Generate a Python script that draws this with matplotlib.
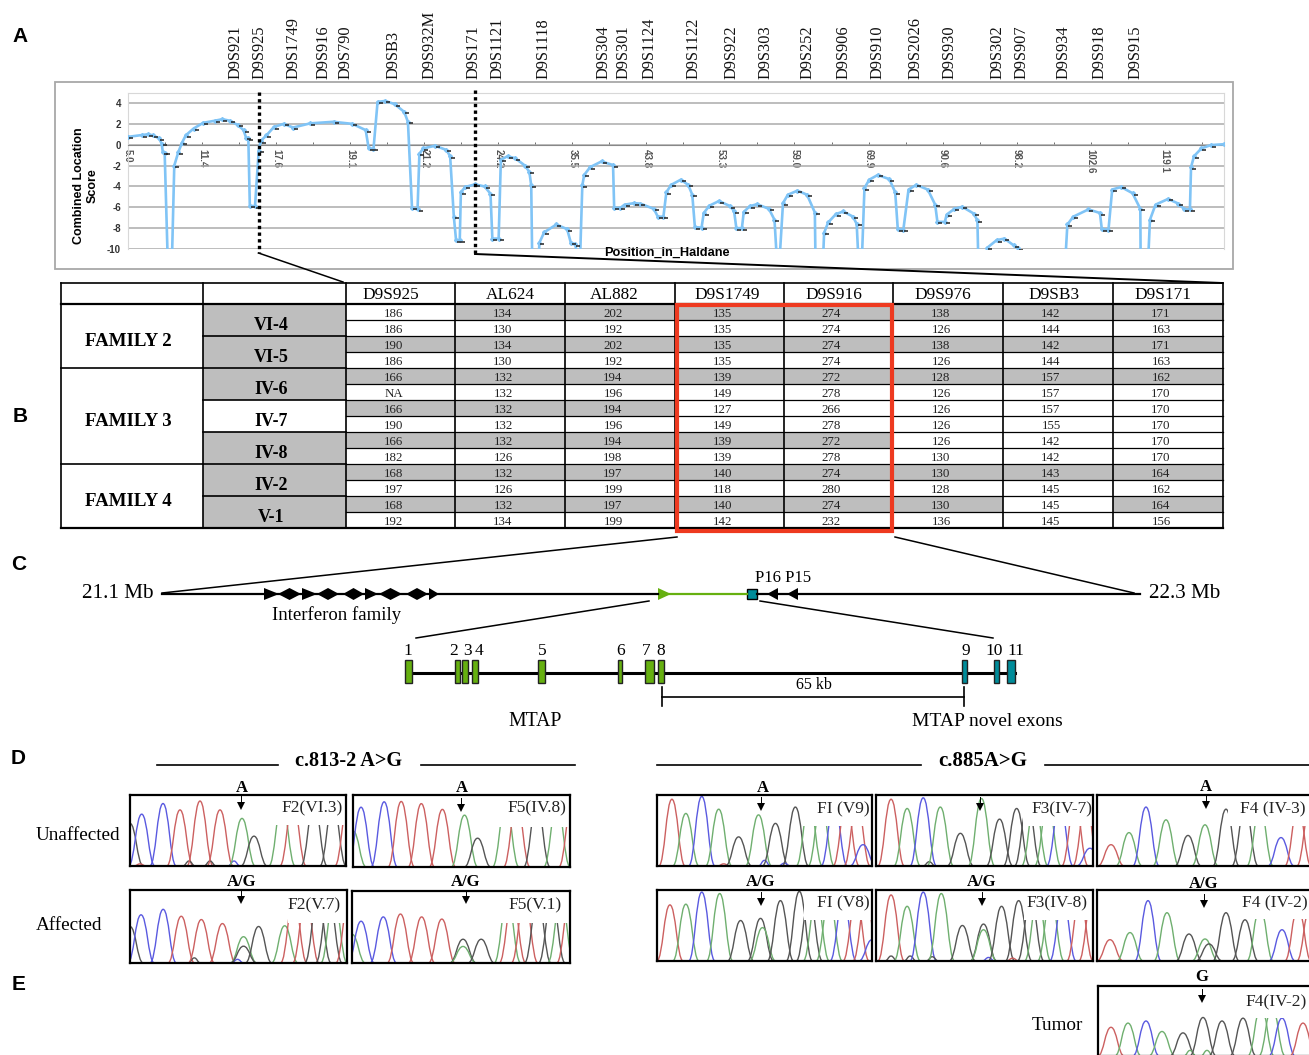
import matplotlib
matplotlib.use("Agg")
import matplotlib.pyplot as plt
from matplotlib.patches import Rectangle, PathPatch
from matplotlib.path import Path
from matplotlib.transforms import ScaledTranslation

W, H = 1309, 1055
SERIF = "Liberation Serif"
SANS = "Liberation Sans"

# panel A: markers above the plot
MARKER_NAMES = ["D9S921", "D9S925", "D9S1749", "D9S916", "D9S790", "D9SB3", "D9S932M", "D9S171", "D9S1121",
                "D9S1118", "D9S304", "D9S301", "D9S1124", "D9S1122", "D9S922", "D9S303", "D9S252", "D9S906",
                "D9S910", "D9S2026", "D9S930", "D9S302", "D9S907", "D9S934", "D9S918", "D9S915"]
MARKER_X = [236, 260, 294, 324, 346, 394, 429, 474, 498, 544, 604, 624, 650, 693, 731, 766, 807, 844, 878,
            916, 949, 997, 1022, 1063, 1099, 1135]

# panel A: combined location score (-12 = off the bottom of the scale)
POS = [0.1, 3.7, 5.3, 6.8, 8.4, 9.1, 9.4, 9.9, 10.8, 11.8, 12.5, 13.6, 14.6, 15.6, 17.7, 20.3, 23.4, 25.5, 27.5,
       29.6, 31.2, 31.9, 32.5, 32.9, 34.3, 35.3, 35.8, 37.4, 39.4, 42.0, 44.6, 49.2, 55.5, 60.6, 64.2, 65.0, 66.3,
       67.4, 69.4, 72.0, 74.6, 75.6, 76.7, 78.2, 78.7, 79.8, 82.9, 86.0, 87.0, 88.0, 88.6, 89.6, 89.9, 91.1, 93.7,
       96.3, 97.9, 98.4, 100.1, 100.7, 102.5, 104.6, 107.2, 108.4, 108.9, 109.2, 110.8, 111.1, 112.4, 115.7, 118.6,
       119.6, 120.8, 122.0, 122.7, 123.2, 124.8, 127.9, 131.0, 131.3, 133.0, 134.1, 136.7, 138.4, 142.0, 143.1,
       144.6, 145.4, 146.7, 149.3, 151.3, 152.4, 153.1, 154.9, 155.5, 157.0, 159.6, 162.7, 163.7, 164.3, 165.8,
       166.3, 167.9, 169.9, 173.1, 174.6, 175.4, 175.8, 176.9, 178.2, 180.8, 183.4, 185.5, 185.7, 187.6, 188.0,
       189.1, 191.2, 193.2, 195.8, 196.8, 197.4, 198.1, 198.9, 200.2, 202.5, 205.6, 207.2, 207.9, 209.4, 210.8,
       212.9, 216.0, 218.0, 218.6, 220.6, 221.1, 223.2, 225.3, 228.4, 229.4, 229.7, 231.5, 232.0, 234.6, 236.7,
       239.2, 240.3, 240.8, 253.0, 253.7, 255.3, 259.4, 262.5, 263.0, 264.8, 265.8, 268.2, 271.3, 273.4, 273.5,
       275.4, 276.0, 277.5, 280.9, 283.7, 285.3, 286.8, 287.1, 287.9, 289.9, 292.5, 296.0]
SCORE = [0.76, 0.92, 1.0, 0.9, 0.6, 0.1, -0.7, -0.76, -12, -12, -2.0, -0.7, 0.2, 0.9, 1.55, 2.1, 2.3, 2.45, 2.3,
         1.9, 1.4, 0.67, 0.6, -5.85, -5.9, -0.6, 0.35, 0.9, 1.7, 2.0, 1.65, 2.05, 2.2, 2.0, 1.4, -0.35, -0.4,
         4.1, 4.2, 3.9, 3.15, 2.2, -6.05, -6.2, -0.85, -0.35, -0.1, -0.5, -1.1, -6.9, -9.15, -9.15, -4.55, -4.05, -3.8,
         -4.0, -4.7, -9.0, -9.0, -1.45, -1.1, -1.3, -2.0, -2.6, -3.9, -12, -12, -9.4, -8.4, -7.65, -8.1,
         -9.4, -9.55, -12, -3.9, -2.9, -2.15, -1.6, -1.95, -6.05, -6.05, -5.75, -5.6, -5.65, -6.15, -6.9,
         -6.9, -4.55, -3.85, -3.35, -3.85, -4.8, -7.9, -7.95, -6.55, -5.85, -5.4, -5.9, -6.4, -8.0, -8.0,
         -6.45, -5.9, -5.7, -6.15, -7.2, -12, -12, -5.6, -4.8, -4.4, -4.8, -6.5, -12, -12, -8.45,
         -7.45, -6.65, -6.4, -6.9, -7.6, -12, -12, -4.15, -3.35, -2.9, -3.3, -4.55, -8.1, -8.15, -4.3,
         -3.85, -4.3, -5.75, -7.4, -7.4, -6.7, -6.15, -5.95, -6.6, -7.25, -12, -12, -9.9, -9.15, -9.0,
         -9.65, -9.95, -12, -12, -7.65, -6.9, -6.2, -6.55, -8.1, -8.15, -4.3, -4.05, -4.65, -6.15, -12,
         -12, -7.2, -5.75, -5.2, -5.65, -6.2, -6.2, -2.15, -1.1, -0.35, -0.03, 0.05]
POS_TICKS = [0, 20, 40, 60, 80, 100, 120, 140, 160, 180, 200, 220, 240, 260, 280]
POS_LABELS = ["5.0", "11.4", "17.6", "19.1", "21.2", "24.2", "35.5", "43.8", "53.3", "59.0", "69.9", "90.6",
              "98.2", "102.6", "119.1"]

# panel B: haplotype table
TABLE_MARKERS = ["D9S925", "AL624", "AL882", "D9S1749", "D9S916", "D9S976", "D9SB3", "D9S171"]
HEADER_X = [391, 510, 614, 727, 834, 943, 1054, 1163]
D9S925 = ["186", "186", "190", "186", "166", "NA", "166", "190", "166", "182", "168", "197", "168", "192"]
AL624 = ["134", "130", "134", "130", "132", "132", "132", "132", "132", "126", "132", "126", "132", "134"]
AL882 = ["202", "192", "202", "192", "194", "196", "194", "196", "194", "198", "197", "199", "197", "199"]
D9S1749 = ["135", "135", "135", "135", "139", "149", "127", "149", "139", "139", "140", "118", "140", "142"]
D9S916 = ["274", "274", "274", "274", "272", "278", "266", "278", "272", "278", "274", "280", "274", "232"]
D9S976 = ["138", "126", "138", "126", "128", "126", "126", "126", "126", "130", "130", "128", "130", "136"]
D9SB3 = ["142", "144", "142", "144", "157", "157", "157", "155", "142", "142", "143", "145", "145", "145"]
D9S171 = ["171", "163", "171", "163", "162", "170", "170", "170", "170", "170", "164", "162", "164", "156"]
TABLE_VALUES = [D9S925, AL624, AL882, D9S1749, D9S916, D9S976, D9SB3, D9S171]
SHADED_ROWS = [[2, 4, 6, 8, 10, 12], [0, 2, 4, 6, 8, 10, 12], [0, 2, 4, 6, 8, 10, 12], [0, 2, 4, 8, 10, 12],
               [0, 2, 4, 8, 10, 12], [0, 2, 4, 10, 12], [0, 2, 4, 10], [0, 2, 4, 10, 12]]
COL_EDGES = [346, 455, 565, 675, 784, 893, 1003, 1113, 1223]
INDIVIDUALS = ["VI-4", "VI-5", "IV-6", "IV-7", "IV-8", "IV-2", "V-1"]
FAMILIES = ["FAMILY 2", "FAMILY 3", "FAMILY 4"]
FAMILY_ROWS = [(0, 4), (4, 10), (10, 14)]

# panel C: locus and exons
IFN_START = [264, 278, 302, 317, 343, 365, 379, 406, 429]
IFN_END = [279, 301, 317, 339, 364, 378, 402, 428, 439]
IFN_KIND = [">", "d", ">", "d", "d", ">", "d", "d", ">"]
EXON_LABELS = ["1", "2", "3", "4", "5", "6", "7", "8", "9", "10", "11"]
EXON_LABEL_X = [408, 454, 467, 479, 542, 621, 646, 661, 966, 994, 1016]
EXON_START = [405, 454.5, 462.4, 472, 538, 617.7, 645, 658, 962, 994.4, 1006.6]
EXON_END = [412, 460, 468, 478, 544.6, 621.7, 654, 663.5, 967, 999, 1015]

# panel D/E: sequence traces, one scan / height / base triple per panel
VI3_SCAN = [0, 10, 11.7, 33, 50, 59, 70, 80, 90, 104, 112, 124, 152, 163, 184, 203, 218]
VI3_HEIGHT = [60, 3, 73, 88, 79, 7, 91.5, 7, 79, 7, 67, 42, 85, 85, 85, 85, 85]
VI3_BASE = "GTCCTGTGTCAGATGGT"
IV8_SCAN = [0, 8, 31, 48, 68, 89, 111, 124, 152, 163, 183, 203, 218]
IV8_HEIGHT = [50, 83, 90.5, 91, 88, 80, 72, 40, 85, 85, 85, 85, 85]
IV8_BASE = "ACCTTTAGATGAT"
V7_SCAN = [0, 11, 33, 51, 64, 71, 92, 107, 113, 113, 128, 154, 163, 175, 187, 198, 203, 218]
V7_HEIGHT = [50, 66, 73.5, 64, 7, 59.5, 54, 5, 36, 23, 50, 51, 85, 85, 85, 85, 85, 85]
V7_BASE = "GCCTGTTCAGGATTGGAT"
V1_SCAN = [0, 9, 31, 48, 69, 89, 110, 110, 128, 154, 159, 171, 184, 198, 207, 216]
V1_HEIGHT = [40, 58, 64, 68, 64, 61, 33, 23, 33, 85, 85, 85, 85, 85, 85, 85]
V1_BASE = "ACCTTTGAGATTGGAT"
V9_SCAN = [15, 29, 45, 62, 67, 82, 102, 108, 119, 128, 139, 153, 165, 178, 190, 201, 207]
V9_HEIGHT = [94, 74, 98, 80, 3, 41, 72, 8, 60, 4, 83, 85, 85, 85, 85, 85, 30]
V9_BASE = "TACATGACGCGAACTTC"
IV7_SCAN = [15, 31, 47, 53, 64, 84, 105, 123, 140, 151, 158, 171, 183, 198, 209, 213]
IV7_HEIGHT = [94, 81, 96, 6, 83, 46, 95, 66, 81, 85, 85, 85, 85, 85, 85, 25]
IV7_BASE = "TACGAGAGGGAACTTC"
IV3_SCAN = [14, 32, 49, 69, 91, 108, 129, 148, 163, 184, 201, 213]
IV3_HEIGHT = [30, 47, 83, 65, 43, 58, 80, 80, 80, 40, 80, 80]
IV3_BASE = "TACAGAGGACTT"
V8_SCAN = [13, 29, 45, 63, 84, 104, 106, 124, 143, 153, 160, 173, 187, 200, 210, 216]
V8_HEIGHT = [79, 80, 97, 95, 57, 60, 47, 85, 98, 85, 85, 85, 85, 85, 85, 30]
V8_BASE = "TACAGGAGGGAACTTC"
IV8B_SCAN = [15, 15, 31, 34, 47, 56, 65, 86, 107, 107, 112, 125, 136, 142, 154, 161, 174, 186, 203, 215]
IV8B_HEIGHT = [93, 7, 77, 7, 97, 6, 95, 50, 52, 44, 5, 77, 4, 85, 85, 85, 85, 85, 85, 85]
IV8B_BASE = "TGAGCGAGGACGTGGAACTT"
IV2_SCAN = [13, 33, 51, 70, 92, 108, 112, 129, 148, 163, 185, 201, 213]
IV2_HEIGHT = [30, 40, 85, 68, 38, 31, 24, 68, 58, 75, 44, 75, 75]
IV2_BASE = "TACAGAGGGACTT"
TUMOR_SCAN = [13, 30, 48, 64, 85, 92, 105, 109, 124, 145, 163, 174, 184, 205]
TUMOR_HEIGHT = [41, 47, 50, 35, 33, 8, 55, 8, 50, 54, 70, 70, 54, 47]
TUMOR_BASE = "TACAGAGAGGAACT"

BASE_COLORS = {"A": "#6FAF6F", "C": "#5A5AE0", "G": "#555555", "T": "#CC6060"}
TEAL = "#008C9A"
GREEN = "#66B010"
GREY = "#BEBEBE"


def px_axes(x0, y0, x1, y1, **kw):
    return fig.add_axes([x0 / W, 1 - y1 / H, (x1 - x0) / W, (y1 - y0) / H], **kw)


def peak_path(c, h, w):
    verts = [(c - w, 0), (c - 0.55 * w, 0.03 * h), (c - 0.45 * w, h), (c, h),
             (c + 0.45 * w, h), (c + 0.55 * w, 0.03 * h), (c + w, 0)]
    codes = [Path.MOVETO] + [Path.CURVE4] * 6
    return Path(verts, codes)


def trace(x0, y0, x1, y1, scan, height, bases, label, lab_x, lab_y, hide_x, hide_h):
    ax = px_axes(x0, y0, x1, y1)
    ax.set_xlim(0, 216)
    ax.set_ylim(0, 100)
    ax.set_xticks([])
    ax.set_yticks([])
    for s in ax.spines.values():
        s.set_linewidth(1.6)
    for c, h, b in zip(scan, height, bases):
        w = 6 if h < 10 else 13
        ax.add_patch(PathPatch(peak_path(c, h, w), fill=False, ec=BASE_COLORS[b], lw=1.0, zorder=1))
    # tall peaks are cut off behind the white label area in the original
    ax.add_patch(Rectangle((hide_x, hide_h), 216 - hide_x, 100 - hide_h, fc="white", ec="none", zorder=2))
    main.text(lab_x, lab_y, label, family=SERIF, fontsize=12.5, ha="right", va="center", color="#222222")


def call(letter, x, y, arrow_x, tip_y):
    if letter:
        main.text(x, y, letter, family=SERIF, fontsize=12, fontweight="bold", ha="center", va="center")
    main.plot([arrow_x, arrow_x], [tip_y - 14, tip_y - 6], color="black", lw=0.7)
    main.fill([arrow_x - 4, arrow_x + 4, arrow_x], [tip_y - 8, tip_y - 8, tip_y], color="black", lw=0)


fig = plt.figure(figsize=(W / 100, H / 100), dpi=100)
fig.patch.set_facecolor("white")

# panel A plot
ax_a = px_axes(128, 92.6, 1224, 249)
ax_a.set_xlim(0, 296)
ax_a.set_ylim(-10, 5)
ax_a.plot(POS, SCORE, color="#80C4F6", lw=1.9, marker="D", ms=2, zorder=3)
dash_offset = ScaledTranslation(3 / 100, -1.5 / 100, fig.dpi_scale_trans)
ax_a.plot(POS, SCORE, ls="none", marker="_", ms=3.5, mew=1.1, color="#222222", zorder=4,
          transform=ax_a.transData + dash_offset)
ax_a.set_yticks([4, 2, 0, -2, -4, -6, -8, -10])
ax_a.set_yticklabels(["4", "2", "0", "-2", "-4", "-6", "-8", "-10"], fontsize=7, family=SANS, fontweight="bold",
                     color="#333333")
ax_a.tick_params(axis="y", length=0, pad=5)
ax_a.grid(axis="y", color="#ABABAB", lw=1.1)
ax_a.set_axisbelow(True)
ax_a.spines["bottom"].set_position(("data", 0))
ax_a.spines["bottom"].set_color("#888888")
for side in ["top", "right", "left"]:
    ax_a.spines[side].set_color("#D8D8D8")
ax_a.set_xticks(POS_TICKS)
ax_a.set_xticks(range(10, 296, 20), minor=True)
ax_a.set_xticklabels(POS_LABELS, rotation=270, fontsize=7, family=SANS, fontweight="bold", color="#555555")
ax_a.tick_params(axis="x", which="both", direction="in", length=2, width=0.6, color="#555555", pad=3)

# everything positioned on the page goes on this overlay, in pixel coordinates
main = fig.add_axes([0, 0, 1, 1], zorder=10)
main.set_xlim(0, W)
main.set_ylim(H, 0)
main.axis("off")
main.patch.set_alpha(0)

for lab, lx, ly in [("A", 20, 36), ("B", 20, 417), ("C", 19, 565), ("D", 18, 759), ("E", 19, 984)]:
    main.text(lx, ly, lab, family=SANS, fontsize=15, fontweight="bold", ha="center", va="center")

for name, mx in zip(MARKER_NAMES, MARKER_X):
    main.text(mx, 79, name, family=SERIF, fontsize=11.8, rotation=90, ha="center", va="bottom", color="#111111")

main.add_patch(Rectangle((55, 82), 1178, 187, fill=False, ec="#A8A8A8", lw=1.3))
main.text(86, 186, "Combined Location\nScore", family=SANS, fontsize=9, fontweight="bold", rotation=90,
          ha="center", va="center", linespacing=1.15)
main.text(667, 253, "Position_in_Haldane", family=SANS, fontsize=9.2, fontweight="bold", ha="center", va="center")
main.plot([259, 259], [92, 253], color="black", lw=2.4, ls=(0, (1, 1)))
main.plot([475, 475], [90, 253], color="black", lw=2.4, ls=(0, (1, 1)))
main.plot([258.5, 343], [253, 282], color="black", lw=1.1)
main.plot([475, 1222], [254, 283], color="black", lw=1.4)

# panel B table
row_y = [304 + 16 * i for i in range(15)]
indiv_rows = [(0, 2), (2, 4), (4, 6), (6, 8), (8, 10), (10, 12), (12, 14)]
for name, (r0, r1) in zip(INDIVIDUALS, indiv_rows):
    if name != "IV-7":
        main.add_patch(Rectangle((203, row_y[r0]), 143, row_y[r1] - row_y[r0], fc=GREY, ec="none"))
    main.text(271, (row_y[r0] + row_y[r1]) / 2 + 6, name, family=SERIF, fontsize=13, fontweight="bold",
              ha="center", va="center")
    main.plot([203, 346], [row_y[r1], row_y[r1]], color="black", lw=1.2)
for name, (r0, r1) in zip(FAMILIES, FAMILY_ROWS):
    main.text(128, (row_y[r0] + row_y[r1]) / 2 + 6, name, family=SERIF, fontsize=13.6, fontweight="bold",
              ha="center", va="center")
    main.plot([61, 203], [row_y[r1], row_y[r1]], color="black", lw=1.2)
for j, (marker, hx, values, shaded) in enumerate(zip(TABLE_MARKERS, HEADER_X, TABLE_VALUES, SHADED_ROWS)):
    left, right = COL_EDGES[j], COL_EDGES[j + 1]
    cx = (left + right) / 2
    main.text(hx, 295, marker, family=SERIF, fontsize=12.4, ha="center", va="center")
    for r, val in enumerate(values):
        if r in shaded:
            main.add_patch(Rectangle((left, row_y[r]), right - left, 16, fc=GREY, ec="none"))
        main.text(cx - 7, row_y[r] + 10, val, family=SERIF, fontsize=9.3, ha="center", va="center", color="#222222")
for y in row_y[1:-1]:
    main.plot([346, 1223], [y, y], color="black", lw=0.9)
main.plot([61, 1223], [304, 304], color="black", lw=1.6)
main.plot([61, 1223], [283, 283], color="black", lw=1.2)
main.plot([61, 1223], [528, 528], color="black", lw=1.6)
for x in [61, 203] + COL_EDGES:
    main.plot([x, x], [283, 528], color="black", lw=1.2)
main.add_patch(Rectangle((677, 305), 215, 225.5, fill=False, ec="#EE3A20", lw=3, zorder=5))

# panel C locus
main.plot([677, 162], [537, 593], color="black", lw=1.1)
main.plot([895, 1134], [537, 593], color="black", lw=1.1)
main.plot([162, 658], [594, 594], color="black", lw=1.6)
main.plot([757, 1140], [594, 594], color="black", lw=1.6)
main.plot([665, 747], [594, 594], color=GREEN, lw=1.6)
for a, b, kind in zip(IFN_START, IFN_END, IFN_KIND):
    if kind == ">":
        main.fill([a, b, a], [588, 594, 600], color="black", lw=0)
    else:
        m = (a + b) / 2
        main.fill([a, m, b, m], [594, 588, 594, 600], color="black", lw=0)
main.fill([658, 671, 658], [588, 594, 600], color=GREEN, lw=0)
main.fill([778, 767, 778], [588, 594, 600], color="black", lw=0)
main.fill([798, 787, 798], [588, 594, 600], color="black", lw=0)
main.add_patch(Rectangle((746.5, 589), 10, 10, fc=TEAL, ec="black", lw=1))
main.text(118, 594, "21.1 Mb", family=SERIF, fontsize=15.2, ha="center", va="center")
main.text(1185, 594, "22.3 Mb", family=SERIF, fontsize=15.2, ha="center", va="center")
main.text(337, 615, "Interferon family", family=SERIF, fontsize=13.5, ha="center", va="center")
main.text(783, 578, "P16 P15", family=SERIF, fontsize=12, ha="center", va="center")
main.plot([649, 416], [601, 638], color="black", lw=1.1)
main.plot([760, 993], [601, 638], color="black", lw=1.1)
main.plot([407, 1015], [673, 673], color="black", lw=2.2)
for i, (a, b, lab, lx) in enumerate(zip(EXON_START, EXON_END, EXON_LABELS, EXON_LABEL_X)):
    color = GREEN if i < 8 else TEAL
    main.add_patch(Rectangle((a, 660), b - a, 23, fc=color, ec="#222222", lw=1, zorder=4))
    main.text(lx, 651, lab, family=SERIF, fontsize=12.5, ha="center", va="center")
main.plot([662, 964], [697, 697], color="black", lw=1.2)
main.plot([662, 662], [687, 706], color="black", lw=1.2)
main.plot([964, 964], [687, 706], color="black", lw=1.2)
main.text(814, 685, "65 kb", family=SERIF, fontsize=11.5, ha="center", va="center")
main.text(535, 721, "MTAP", family=SERIF, fontsize=14.2, ha="center", va="center")
main.text(987, 721, "MTAP novel exons", family=SERIF, fontsize=14, ha="center", va="center")

# panels D and E
for a, b in [(157, 278), (421, 575), (657, 921), (1045, 1309)]:
    main.plot([a, b], [765, 765], color="black", lw=1.2)
main.text(349, 761, "c.813-2 A>G", family=SERIF, fontsize=14.6, fontweight="bold", ha="center", va="center")
main.text(983, 761, "c.885A>G", family=SERIF, fontsize=15, fontweight="bold", ha="center", va="center")
main.text(36, 836, "Unaffected", family=SERIF, fontsize=13.8, ha="left", va="center")
main.text(36, 925, "Affected", family=SERIF, fontsize=13.8, ha="left", va="center")
main.text(1032, 1026, "Tumor", family=SERIF, fontsize=13.8, ha="left", va="center")

trace(130, 795, 346, 866, VI3_SCAN, VI3_HEIGHT, VI3_BASE, "F2(VI.3)", 343, 808, 140, 58)
trace(353, 795, 570, 867, IV8_SCAN, IV8_HEIGHT, IV8_BASE, "F5(IV.8)", 566, 808, 137, 55)
trace(130, 890, 347, 963, V7_SCAN, V7_HEIGHT, V7_BASE, "F2(V.7)", 341, 905, 157, 55)
trace(352, 891, 570, 963, V1_SCAN, V1_HEIGHT, V1_BASE, "F5(V.1)", 562, 905, 145, 55)
trace(657, 795, 872, 866, V9_SCAN, V9_HEIGHT, V9_BASE, "FI (V9)", 870, 809, 146, 56)
trace(876, 795, 1093, 866, IV7_SCAN, IV7_HEIGHT, IV7_BASE, "F3(IV-7)", 1092, 809, 146, 56)
trace(1097, 795, 1313, 866, IV3_SCAN, IV3_HEIGHT, IV3_BASE, "F4 (IV-3)", 1306, 809, 131, 56)
trace(657, 890, 872, 961, V8_SCAN, V8_HEIGHT, V8_BASE, "FI (V8)", 870, 903, 148, 58)
trace(876, 890, 1093, 961, IV8B_SCAN, IV8B_HEIGHT, IV8B_BASE, "F3(IV-8)", 1087, 903, 147, 58)
trace(1097, 890, 1313, 961, IV2_SCAN, IV2_HEIGHT, IV2_BASE, "F4 (IV-2)", 1308, 903, 155, 59)
trace(1098, 986, 1314, 1056, TUMOR_SCAN, TUMOR_HEIGHT, TUMOR_BASE, "F4(IV-2)", 1307, 1002, 155, 54)

call("A", 242, 788, 241, 810)
call("A", 462, 788, 461, 812)
call("A/G", 242, 882, 241, 904)
call("A/G", 466, 882, 466, 904)
call("A", 763, 788, 761, 811)
call("", 980, 788, 980, 811)
call("A", 1206, 787, 1206, 809)
call("A/G", 761, 882, 761, 906)
call("A/G", 982, 882, 982, 906)
call("A/G", 1204, 884, 1204, 908)
call("G", 1202, 977, 1202, 1003)

fig.savefig("out.png", dpi=100, facecolor="white")
